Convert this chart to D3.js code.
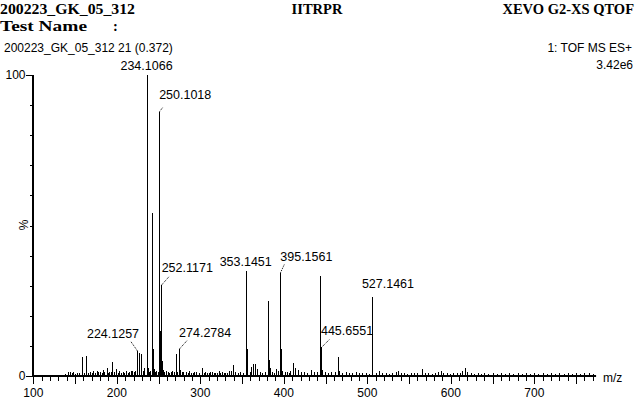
<html>
<head>
<script src="https://d3js.org/d3.v7.min.js"></script>
<style>
  body { margin: 0; background: #fff; }
  text { fill: #000; }
  .sans { font-family: "Liberation Sans", Arial, sans-serif; font-size: 12px; }
  .serif { font-family: "Liberation Serif", "Times New Roman", serif; font-size: 14.5px; font-weight: bold; }
</style>
</head>
<body>
<script>
// header texts
var headLeft = "200223_GK_05_312";
var headMid = "IITRPR";
var headRight = "XEVO G2-XS QTOF";
var testName = "Test Name";
var scanInfo = "200223_GK_05_312 21 (0.372)";
var funcInfo = "1: TOF MS ES+";
var maxIntensity = "3.42e6";

// spectrum: m/z positions and relative intensity (%)
var peakMz = [138, 141, 143.7, 146, 148, 150, 152, 155, 158.9, 161, 163.7, 166, 168, 170, 172, 174, 176, 178, 180, 182,
  183.6, 185, 187.7, 189, 191, 193, 194.8, 197, 198.8, 201, 203, 205, 207, 209, 211, 213, 215, 217, 218.5, 220,
  221.6, 224.3, 226.3, 228.6, 231, 233, 235.6, 236.6, 237.6, 239, 240, 242.3, 243.3, 244.3, 246, 247.5, 249,
  250.7, 251.7, 253.1, 254.1, 255.2, 257, 258.5, 261, 263, 264.5, 266, 268, 270.3, 272, 274.6, 276, 278, 279.5,
  283, 285, 287, 289, 291, 293, 295, 298, 302, 304, 306, 308, 310, 312, 314, 316, 318, 320, 322, 324, 326, 328, 330,
  332, 334, 337, 339.3, 342, 345, 348, 351, 354.4, 355.4, 356.4, 359, 361.3, 363.2, 365.6, 368, 371, 374, 377,
  380.7, 381.8, 383, 386, 388, 390.4, 393, 395.8, 396.8, 398, 401, 404, 406, 408, 411.6, 414, 417, 420, 424, 428,
  432, 436, 440, 443.5, 444.5, 446, 449, 453, 457, 461, 465, 466, 470, 474, 478, 482, 486, 490, 494, 498, 502,
  506.2, 510, 514, 518, 522, 526, 530, 534, 536.9, 540, 544, 548, 552, 556, 560, 565.6, 569, 573, 577, 581, 585,
  588, 591, 595, 599, 603, 607, 611, 614, 616.8, 620, 624, 628, 632, 636, 640, 645, 650, 655, 660, 665, 670, 675,
  680, 685, 690, 695, 700, 705, 710, 715, 720, 725, 730, 735, 740, 745, 750, 755, 760, 765, 770];
var peakPct = [0.8, 1.2, 1.4, 0.9, 1.2, 0.8, 1.0, 0.9, 6.4, 1.1, 6.7, 1.0, 1.2, 0.9, 1.8, 1.0, 1.6, 1.2, 1.3, 1.0,
  2.0, 1.2, 2.5, 1.1, 1.4, 1.2, 4.5, 1.3, 2.2, 1.0, 1.6, 1.1, 1.3, 1.0, 1.8, 1.1, 1.2, 1.5, 1.6, 1.2,
  1.8, 8.3, 7.5, 7.3, 1.5, 2.5, 100, 18, 2.8, 1.4, 1.8, 54, 9, 2.2, 1.4, 1.5, 1.2,
  87.8, 15, 30.2, 5, 2.0, 1.3, 1.6, 1.4, 1.1, 1.2, 1.6, 1.3, 7.3, 1.4, 9, 2.0, 1.2, 1.4,
  1.2, 1.0, 1.5, 1.0, 1.1, 1.2, 1.3, 1.0, 2.8, 1.1, 1.3, 0.9, 1.0, 1.2, 1.4, 1.0, 1.1, 0.9, 1.6, 1.0, 1.2, 0.9, 1.0,
  1.1, 1.5, 1.8, 3.6, 1.3, 1.1, 1.3, 1.0, 34.9, 9, 1.8, 1.2, 3.0, 4.1, 4.0, 2.4, 1.3, 1.1, 1.4,
  24.9, 5.4, 2.6, 1.3, 1.1, 2.3, 1.5, 34.3, 9, 1.8, 1.2, 1.3, 1.0, 1.5, 4.2, 2.6, 2.0, 1.2, 1.3, 1.1,
  2.0, 1.2, 1.3, 33.2, 9.5, 2.0, 1.3, 1.1, 1.4, 1.2, 6.3, 1.5, 1.0, 1.2, 0.9, 1.1, 1.3, 0.9, 1.0, 1.1, 0.8,
  26.1, 0.9, 1.5, 1.0, 0.9, 0.8, 1.0, 1.2, 1.7, 1.0, 0.9, 0.8, 1.0, 0.9, 1.1, 2.2, 1.0, 0.9, 0.8, 1.0, 1.2,
  1.5, 1.0, 0.9, 0.8, 1.0, 0.9, 1.1, 1.6, 2.6, 1.2, 0.9, 0.8, 1.0, 0.8, 0.9, 0.8, 1.0, 0.8, 1.1, 0.8, 0.9, 0.8,
  1.0, 0.8, 0.9, 0.8, 0.9, 0.8, 0.9, 0.8, 0.9, 0.8, 1.0, 0.8, 0.9, 0.8, 1.1, 0.8, 0.9, 1.0, 0.8];

// annotated peaks
var labelText = ["234.1066", "250.1018", "252.1171", "224.1257", "274.2784", "353.1451", "395.1561", "445.6551", "527.1461"];
var labelMz = [235.6, 250.7, 253.1, 224.3, 274.6, 354.4, 395.8, 444.5, 506.2];
var labelPct = [100, 87.8, 30.2, 8.3, 9, 34.9, 34.3, 9.5, 26.1];

// x axis
var xMin = 100, xMax = 774;
var xTickLabels = [100, 200, 300, 400, 500, 600, 700];

var W = 637, H = 402;
var x = d3.scaleLinear().domain([xMin, xMax]).range([33.3, 33.3 + (xMax - xMin) * 0.835]);
var y = d3.scaleLinear().domain([0, 100]).range([376, 75]);

var svg = d3.select("body").append("svg")
    .attr("width", W)
    .attr("height", H);

// header
svg.append("text").attr("class", "serif").attr("x", 0).attr("y", 13.5)
    .attr("textLength", 135).attr("lengthAdjust", "spacingAndGlyphs").text(headLeft);
svg.append("text").attr("class", "serif").attr("x", 317).attr("y", 13.5).attr("text-anchor", "middle").text(headMid);
svg.append("text").attr("class", "serif").attr("x", 634).attr("y", 13.5).attr("text-anchor", "end").text(headRight);
svg.append("text").attr("class", "serif").attr("x", 0).attr("y", 31)
    .attr("textLength", 87).attr("lengthAdjust", "spacingAndGlyphs").text(testName);
svg.append("text").attr("class", "serif").attr("x", 113).attr("y", 31).text(":");
svg.append("text").attr("class", "sans").attr("x", 4).attr("y", 51.5).text(scanInfo);
svg.append("text").attr("class", "sans").attr("x", 632).attr("y", 51.5).attr("text-anchor", "end").text(funcInfo);
svg.append("text").attr("class", "sans").attr("x", 633).attr("y", 68.5).attr("text-anchor", "end").text(maxIntensity);

// peaks
var peaks = peakMz.map(function(m, i) { return {mz: m, pct: peakPct[i]}; });
svg.append("g").selectAll("line")
    .data(peaks)
    .enter()
    .append("line")
    .attr("x1", d => Math.round(x(d.mz)) + 0.5)
    .attr("x2", d => Math.round(x(d.mz)) + 0.5)
    .attr("y1", y(0))
    .attr("y2", d => y(d.pct))
    .style("stroke", "#000")
    .style("stroke-width", "1px")
    .attr("shape-rendering", "crispEdges");

// x axis
var xAxis = svg.append("g");
xAxis.append("line")
    .attr("x1", x(xMin) - 1).attr("x2", x(xMax))
    .attr("y1", y(0)).attr("y2", y(0))
    .style("stroke", "#000").style("stroke-width", "2px");
var xTicks = d3.range(100, 771, 10);
xAxis.selectAll("line.tick")
    .data(xTicks)
    .enter()
    .append("line")
    .attr("class", "tick")
    .attr("x1", d => Math.round(x(d)) + 0.5)
    .attr("x2", d => Math.round(x(d)) + 0.5)
    .attr("y1", y(0))
    .attr("y2", d => y(0) + (d % 50 === 0 ? 8 : 4.5))
    .style("stroke", "#000").style("stroke-width", "1px")
    .attr("shape-rendering", "crispEdges");
xAxis.selectAll("text")
    .data(xTickLabels)
    .enter()
    .append("text")
    .attr("class", "sans")
    .attr("x", d => x(d))
    .attr("y", 397)
    .attr("text-anchor", "middle")
    .text(d => d);
svg.append("text").attr("class", "sans").attr("x", 603).attr("y", 382).text("m/z");

// y axis
var yAxis = svg.append("g");
yAxis.append("line")
    .attr("x1", x(xMin) - 0.3).attr("x2", x(xMin) - 0.3)
    .attr("y1", y(100)).attr("y2", y(0) + 1)
    .style("stroke", "#000").style("stroke-width", "2px");
yAxis.selectAll("line.tick")
    .data(d3.range(0, 101, 10))
    .enter()
    .append("line")
    .attr("class", "tick")
    .attr("x1", x(xMin) - 1)
    .attr("x2", d => x(xMin) - (d === 0 || d === 100 ? 7 : 3.5))
    .attr("y1", d => Math.round(y(d)) + 0.5)
    .attr("y2", d => Math.round(y(d)) + 0.5)
    .style("stroke", "#000").style("stroke-width", "1px")
    .attr("shape-rendering", "crispEdges");
yAxis.selectAll("text")
    .data([0, 100])
    .enter()
    .append("text")
    .attr("class", "sans")
    .attr("x", 25.5)
    .attr("y", d => y(d) + 4.3)
    .attr("text-anchor", "end")
    .text(d => d);
svg.append("text").attr("class", "sans")
    .attr("transform", "translate(28,225) rotate(-90)")
    .attr("text-anchor", "middle")
    .text("%");

// peak annotations: how each label sits relative to its peak top
var place = {
  "234.1066": {anchor: "middle", tx: 0, ty: -5},
  "250.1018": {anchor: "start", tx: 0, ty: -12.4, lx: 3, ly: -4},
  "252.1171": {anchor: "start", tx: 0.5, ty: -12.7, lx: 8, ly: -9},
  "224.1257": {anchor: "end", tx: 2, ty: -12.7, lx: -7, ly: -10},
  "274.2784": {anchor: "start", tx: 0, ty: -12.3, lx: 7.5, ly: -8.3},
  "353.1451": {anchor: "middle", tx: 0, ty: -5},
  "395.1561": {anchor: "start", tx: 0, ty: -12, lx: 4, ly: -8.7},
  "445.6551": {anchor: "start", tx: 0, ty: -12, lx: 8, ly: -8},
  "527.1461": {anchor: "start", tx: -10.6, ty: -9.6}
};
var labels = labelText.map(function(t, i) { return {t: t, mz: labelMz[i], pct: labelPct[i], p: place[t]}; });
var lg = svg.append("g");
lg.selectAll("line")
    .data(labels.filter(d => d.p.lx !== undefined))
    .enter()
    .append("line")
    .attr("x1", d => Math.round(x(d.mz)) + 0.5)
    .attr("y1", d => y(d.pct))
    .attr("x2", d => Math.round(x(d.mz)) + 0.5 + d.p.lx)
    .attr("y2", d => y(d.pct) + d.p.ly)
    .style("stroke", "#000").style("stroke-width", "1px")
    .style("stroke-dasharray", "1,1");
lg.selectAll("text")
    .data(labels)
    .enter()
    .append("text")
    .attr("class", "sans")
    .style("font-size", "12.5px")
    .attr("x", d => x(d.mz) + d.p.tx)
    .attr("y", d => y(d.pct) + d.p.ty)
    .attr("text-anchor", d => d.p.anchor)
    .text(d => d.t);
</script>
</body>
</html>
